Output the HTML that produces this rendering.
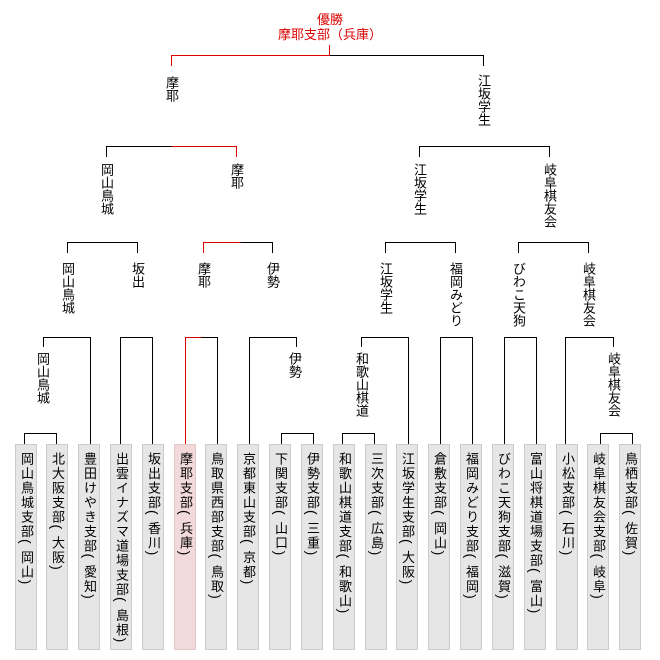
<!DOCTYPE html>
<html><head><meta charset="utf-8"><style>
body{margin:0;background:#fff;width:660px;height:660px;position:relative;overflow:hidden;font-family:"Liberation Sans","Noto Sans CJK JP",sans-serif;}
.v{position:absolute;writing-mode:vertical-rl;font-size:13px;line-height:14px;width:14px;color:#000;white-space:nowrap;}
.lf{letter-spacing:1.5px;}
.p{font-size:14px;letter-spacing:7px;}
.t{position:absolute;left:0;width:660px;text-align:center;font-size:13px;line-height:14px;color:#d00;}
svg{position:absolute;left:0;top:0;}
</style></head><body>
<svg width="660" height="660" shape-rendering="crispEdges">
<g fill="#e6e6e6" stroke="#ccc">
<rect x="15.5" y="444.5" width="21" height="205"/>
<rect x="46.5" y="444.5" width="21" height="205"/>
<rect x="78.5" y="444.5" width="21" height="205"/>
<rect x="110.5" y="444.5" width="21" height="205"/>
<rect x="142.5" y="444.5" width="21" height="205"/>
<rect x="174.5" y="444.5" width="21" height="205" fill="#f3dada" stroke="#e0c8c8"/>
<rect x="205.5" y="444.5" width="21" height="205"/>
<rect x="237.5" y="444.5" width="21" height="205"/>
<rect x="269.5" y="444.5" width="21" height="205"/>
<rect x="301.5" y="444.5" width="21" height="205"/>
<rect x="333.5" y="444.5" width="21" height="205"/>
<rect x="365.5" y="444.5" width="21" height="205"/>
<rect x="396.5" y="444.5" width="21" height="205"/>
<rect x="428.5" y="444.5" width="21" height="205"/>
<rect x="460.5" y="444.5" width="21" height="205"/>
<rect x="492.5" y="444.5" width="21" height="205"/>
<rect x="524.5" y="444.5" width="21" height="205"/>
<rect x="556.5" y="444.5" width="21" height="205"/>
<rect x="587.5" y="444.5" width="21" height="205"/>
<rect x="619.5" y="444.5" width="21" height="205"/>
</g>
<g stroke="#000" fill="none" stroke-width="1">
<polyline points="329.5,55.5 483.5,55.5 483.5,66"/>
<polyline points="106.5,157 106.5,146.5 171.5,146.5"/>
<polyline points="419.5,157 419.5,146.5 549.5,146.5 549.5,157"/>
<polyline points="67.5,253 67.5,242.5 137.5,242.5 137.5,253"/>
<polyline points="240.5,242.5 272.5,242.5 272.5,253"/>
<polyline points="385.5,253 385.5,242.5 455.5,242.5 455.5,253"/>
<polyline points="518.5,253 518.5,242.5 588.5,242.5 588.5,253"/>
<polyline points="43.5,347 43.5,337.5 90.5,337.5 90.5,444"/>
<polyline points="120.5,444 120.5,337.5 152.5,337.5 152.5,444"/>
<polyline points="201.5,337.5 217.5,337.5 217.5,444"/>
<polyline points="249.5,444 249.5,337.5 296.5,337.5 296.5,347"/>
<polyline points="361.5,347 361.5,337.5 408.5,337.5 408.5,444"/>
<polyline points="440.5,444 440.5,337.5 472.5,337.5 472.5,444"/>
<polyline points="504.5,444 504.5,337.5 536.5,337.5 536.5,444"/>
<polyline points="565.5,444 565.5,337.5 613.5,337.5 613.5,347"/>
<polyline points="24.5,444 24.5,433.5 56.5,433.5 56.5,444"/>
<polyline points="281.5,444 281.5,433.5 313.5,433.5 313.5,444"/>
<polyline points="342.5,444 342.5,433.5 374.5,433.5 374.5,444"/>
<polyline points="600.5,444 600.5,433.5 632.5,433.5 632.5,444"/>
</g>
<g stroke="#d00" fill="none" stroke-width="1">
<polyline points="329.5,45 329.5,55.5 171.5,55.5 171.5,66"/>
<polyline points="171.5,146.5 236.5,146.5 236.5,157"/>
<polyline points="240.5,242.5 203.5,242.5 203.5,253"/>
<polyline points="201.5,337.5 185.5,337.5 185.5,444"/>
</g>
</svg>
<div class="t" style="top:13px">優勝</div>
<div class="t" style="top:28px">摩耶支部（兵庫）</div>

<div class="v" style="left:164px;top:76px">摩耶</div>
<div class="v" style="left:476px;top:74px">江坂学生</div>

<div class="v" style="left:99px;top:163px">岡山鳥城</div>
<div class="v" style="left:229px;top:163px">摩耶</div>
<div class="v" style="left:412px;top:163px">江坂学生</div>
<div class="v" style="left:542px;top:163px">岐阜棋友会</div>

<div class="v" style="left:60px;top:262px">岡山鳥城</div>
<div class="v" style="left:130px;top:262px">坂出</div>
<div class="v" style="left:196px;top:262px">摩耶</div>
<div class="v" style="left:265px;top:262px">伊勢</div>
<div class="v" style="left:378px;top:262px">江坂学生</div>
<div class="v" style="left:448px;top:262px">福岡みどり</div>
<div class="v" style="left:511px;top:262px">びわこ天狗</div>
<div class="v" style="left:581px;top:262px">岐阜棋友会</div>

<div class="v" style="left:35px;top:352px">岡山鳥城</div>
<div class="v" style="left:287px;top:352px">伊勢</div>
<div class="v" style="left:354px;top:352px">和歌山棋道</div>
<div class="v" style="left:606px;top:352px">岐阜棋友会</div>

<div class="v lf" style="left:19px;top:452px">岡山鳥城支部<span class="p">(</span>岡山<span class="p">)</span></div>
<div class="v lf" style="left:50px;top:452px">北大阪支部<span class="p">(</span>大阪<span class="p">)</span></div>
<div class="v lf" style="left:82px;top:452px">豊田けやき支部<span class="p">(</span>愛知<span class="p">)</span></div>
<div class="v lf" style="left:114px;top:452px">出雲イナズマ道場支部<span class="p">(</span>島根<span class="p">)</span></div>
<div class="v lf" style="left:146px;top:452px">坂出支部<span class="p">(</span>香川<span class="p">)</span></div>
<div class="v lf" style="left:178px;top:452px">摩耶支部<span class="p">(</span>兵庫<span class="p">)</span></div>
<div class="v lf" style="left:209px;top:452px">鳥取県西部支部<span class="p">(</span>鳥取<span class="p">)</span></div>
<div class="v lf" style="left:241px;top:452px">京都東山支部<span class="p">(</span>京都<span class="p">)</span></div>
<div class="v lf" style="left:273px;top:452px">下関支部<span class="p">(</span>山口<span class="p">)</span></div>
<div class="v lf" style="left:305px;top:452px">伊勢支部<span class="p">(</span>三重<span class="p">)</span></div>
<div class="v lf" style="left:337px;top:452px">和歌山棋道支部<span class="p">(</span>和歌山<span class="p">)</span></div>
<div class="v lf" style="left:369px;top:452px">三次支部<span class="p">(</span>広島<span class="p">)</span></div>
<div class="v lf" style="left:400px;top:452px">江坂学生支部<span class="p">(</span>大阪<span class="p">)</span></div>
<div class="v lf" style="left:432px;top:452px">倉敷支部<span class="p">(</span>岡山<span class="p">)</span></div>
<div class="v lf" style="left:464px;top:452px">福岡みどり支部<span class="p">(</span>福岡<span class="p">)</span></div>
<div class="v lf" style="left:496px;top:452px">びわこ天狗支部<span class="p">(</span>滋賀<span class="p">)</span></div>
<div class="v lf" style="left:528px;top:452px">富山将棋道場支部<span class="p">(</span>富山<span class="p">)</span></div>
<div class="v lf" style="left:560px;top:452px">小松支部<span class="p">(</span>石川<span class="p">)</span></div>
<div class="v lf" style="left:591px;top:452px">岐阜棋友会支部<span class="p">(</span>岐阜<span class="p">)</span></div>
<div class="v lf" style="left:623px;top:452px">鳥栖支部<span class="p">(</span>佐賀<span class="p">)</span></div>
</body></html>
